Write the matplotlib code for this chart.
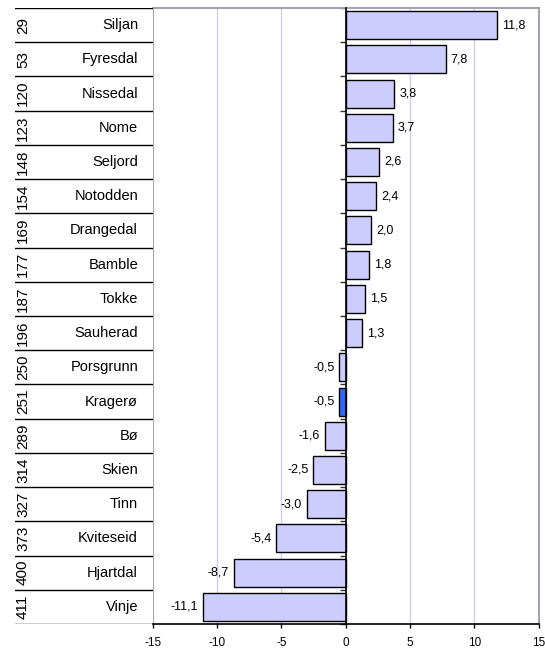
import matplotlib
matplotlib.use("Agg")
import matplotlib.pyplot as plt
from matplotlib.ticker import FixedLocator, NullFormatter

plt.rcParams['font.family'] = ['Liberation Sans', 'DejaVu Sans']

# Municipalities, their rank and change
names = ["Siljan", "Fyresdal", "Nissedal", "Nome", "Seljord", "Notodden",
         "Drangedal", "Bamble", "Tokke", "Sauherad", "Porsgrunn", "Kragerø",
         "Bø", "Skien", "Tinn", "Kviteseid", "Hjartdal", "Vinje"]
ranks = [29, 53, 120, 123, 148, 154, 169, 177, 187, 196, 250, 251,
         289, 314, 327, 373, 400, 411]
values = [11.8, 7.8, 3.8, 3.7, 2.6, 2.4, 2.0, 1.8, 1.5, 1.3, -0.5, -0.5,
          -1.6, -2.5, -3.0, -5.4, -8.7, -11.1]
highlight = "Kragerø"
x_ticks = [-15, -10, -5, 0, 5, 10, 15]

W, H = 545, 648
fig = plt.figure(figsize=(W / 100, H / 100), dpi=100)
fig.patch.set_facecolor("white")

left_px, right_px, top_px, bot_px = 152.7, 538.5, 8, 624
ax = fig.add_axes([left_px / W, 1 - bot_px / H,
                   (right_px - left_px) / W, (bot_px - top_px) / H])

n = len(names)
ypos = list(range(n))
colors = ["#3366FF" if nm == highlight else "#CCCCFF" for nm in names]
ax.barh(ypos, values, height=0.82, color=colors, edgecolor="black",
        linewidth=1.0, zorder=3)

ax.set_xlim(-15, 15)
ax.set_ylim(n - 0.5, -0.5)

# light vertical gridlines
for xv in x_ticks:
    if xv in (-15, 0, 15):
        continue
    ax.axvline(xv, color="#CCCCF6", linewidth=1.0, zorder=1)
ax.axvline(-15, color="#A4A4B0", linewidth=1.5, zorder=2)

# zero axis as the left spine with category tick marks
ax.spines["left"].set_position(("data", 0))
ax.spines["left"].set_color("black")
ax.spines["left"].set_linewidth(1.2)
ax.spines["left"].set_zorder(4)
ax.yaxis.set_major_locator(FixedLocator([k - 0.5 for k in range(n + 1)]))
ax.yaxis.set_major_formatter(NullFormatter())
ax.tick_params(axis="y", direction="out", length=4, width=1, color="#333333")

for side in ("top", "right"):
    ax.spines[side].set_color("#A4A4B0")
    ax.spines[side].set_linewidth(1.5)
ax.spines["bottom"].set_color("black")
ax.spines["bottom"].set_linewidth(1.2)

ax.set_xticks(x_ticks)
ax.set_xticklabels([str(t) for t in x_ticks])
ax.tick_params(axis="x", direction="out", length=3, width=1, pad=6,
               labelsize=8.5)

# value labels
for y, v in zip(ypos, values):
    txt = f"{v:.1f}".replace(".", ",")
    if v >= 0:
        ax.annotate(txt, (v, y), xytext=(3.5, 0), textcoords="offset points",
                    ha="left", va="center", fontsize=9, zorder=5)
    else:
        ax.annotate(txt, (v, y), xytext=(-3.5, 0), textcoords="offset points",
                    ha="right", va="center", fontsize=9, zorder=5)

# rank / name table on the left
tl = 15
ax_t = fig.add_axes([tl / W, 1 - bot_px / H,
                     (left_px - tl) / W, (bot_px - top_px) / H])
ax_t.set_xlim(0, left_px - tl)
ax_t.set_ylim(n - 0.5, -0.5)
ax_t.axis("off")
for k in range(n + 1):
    ax_t.axhline(k - 0.5, color="black", linewidth=1.0)
for y, (r, nm) in enumerate(zip(ranks, names)):
    ax_t.text(23 - tl, y, str(r), rotation=90, ha="center", va="center",
              fontsize=11)
    ax_t.text(138 - tl, y, nm, ha="right", va="center", fontsize=10.5)

fig.savefig("out.png", dpi=100, facecolor="white")
